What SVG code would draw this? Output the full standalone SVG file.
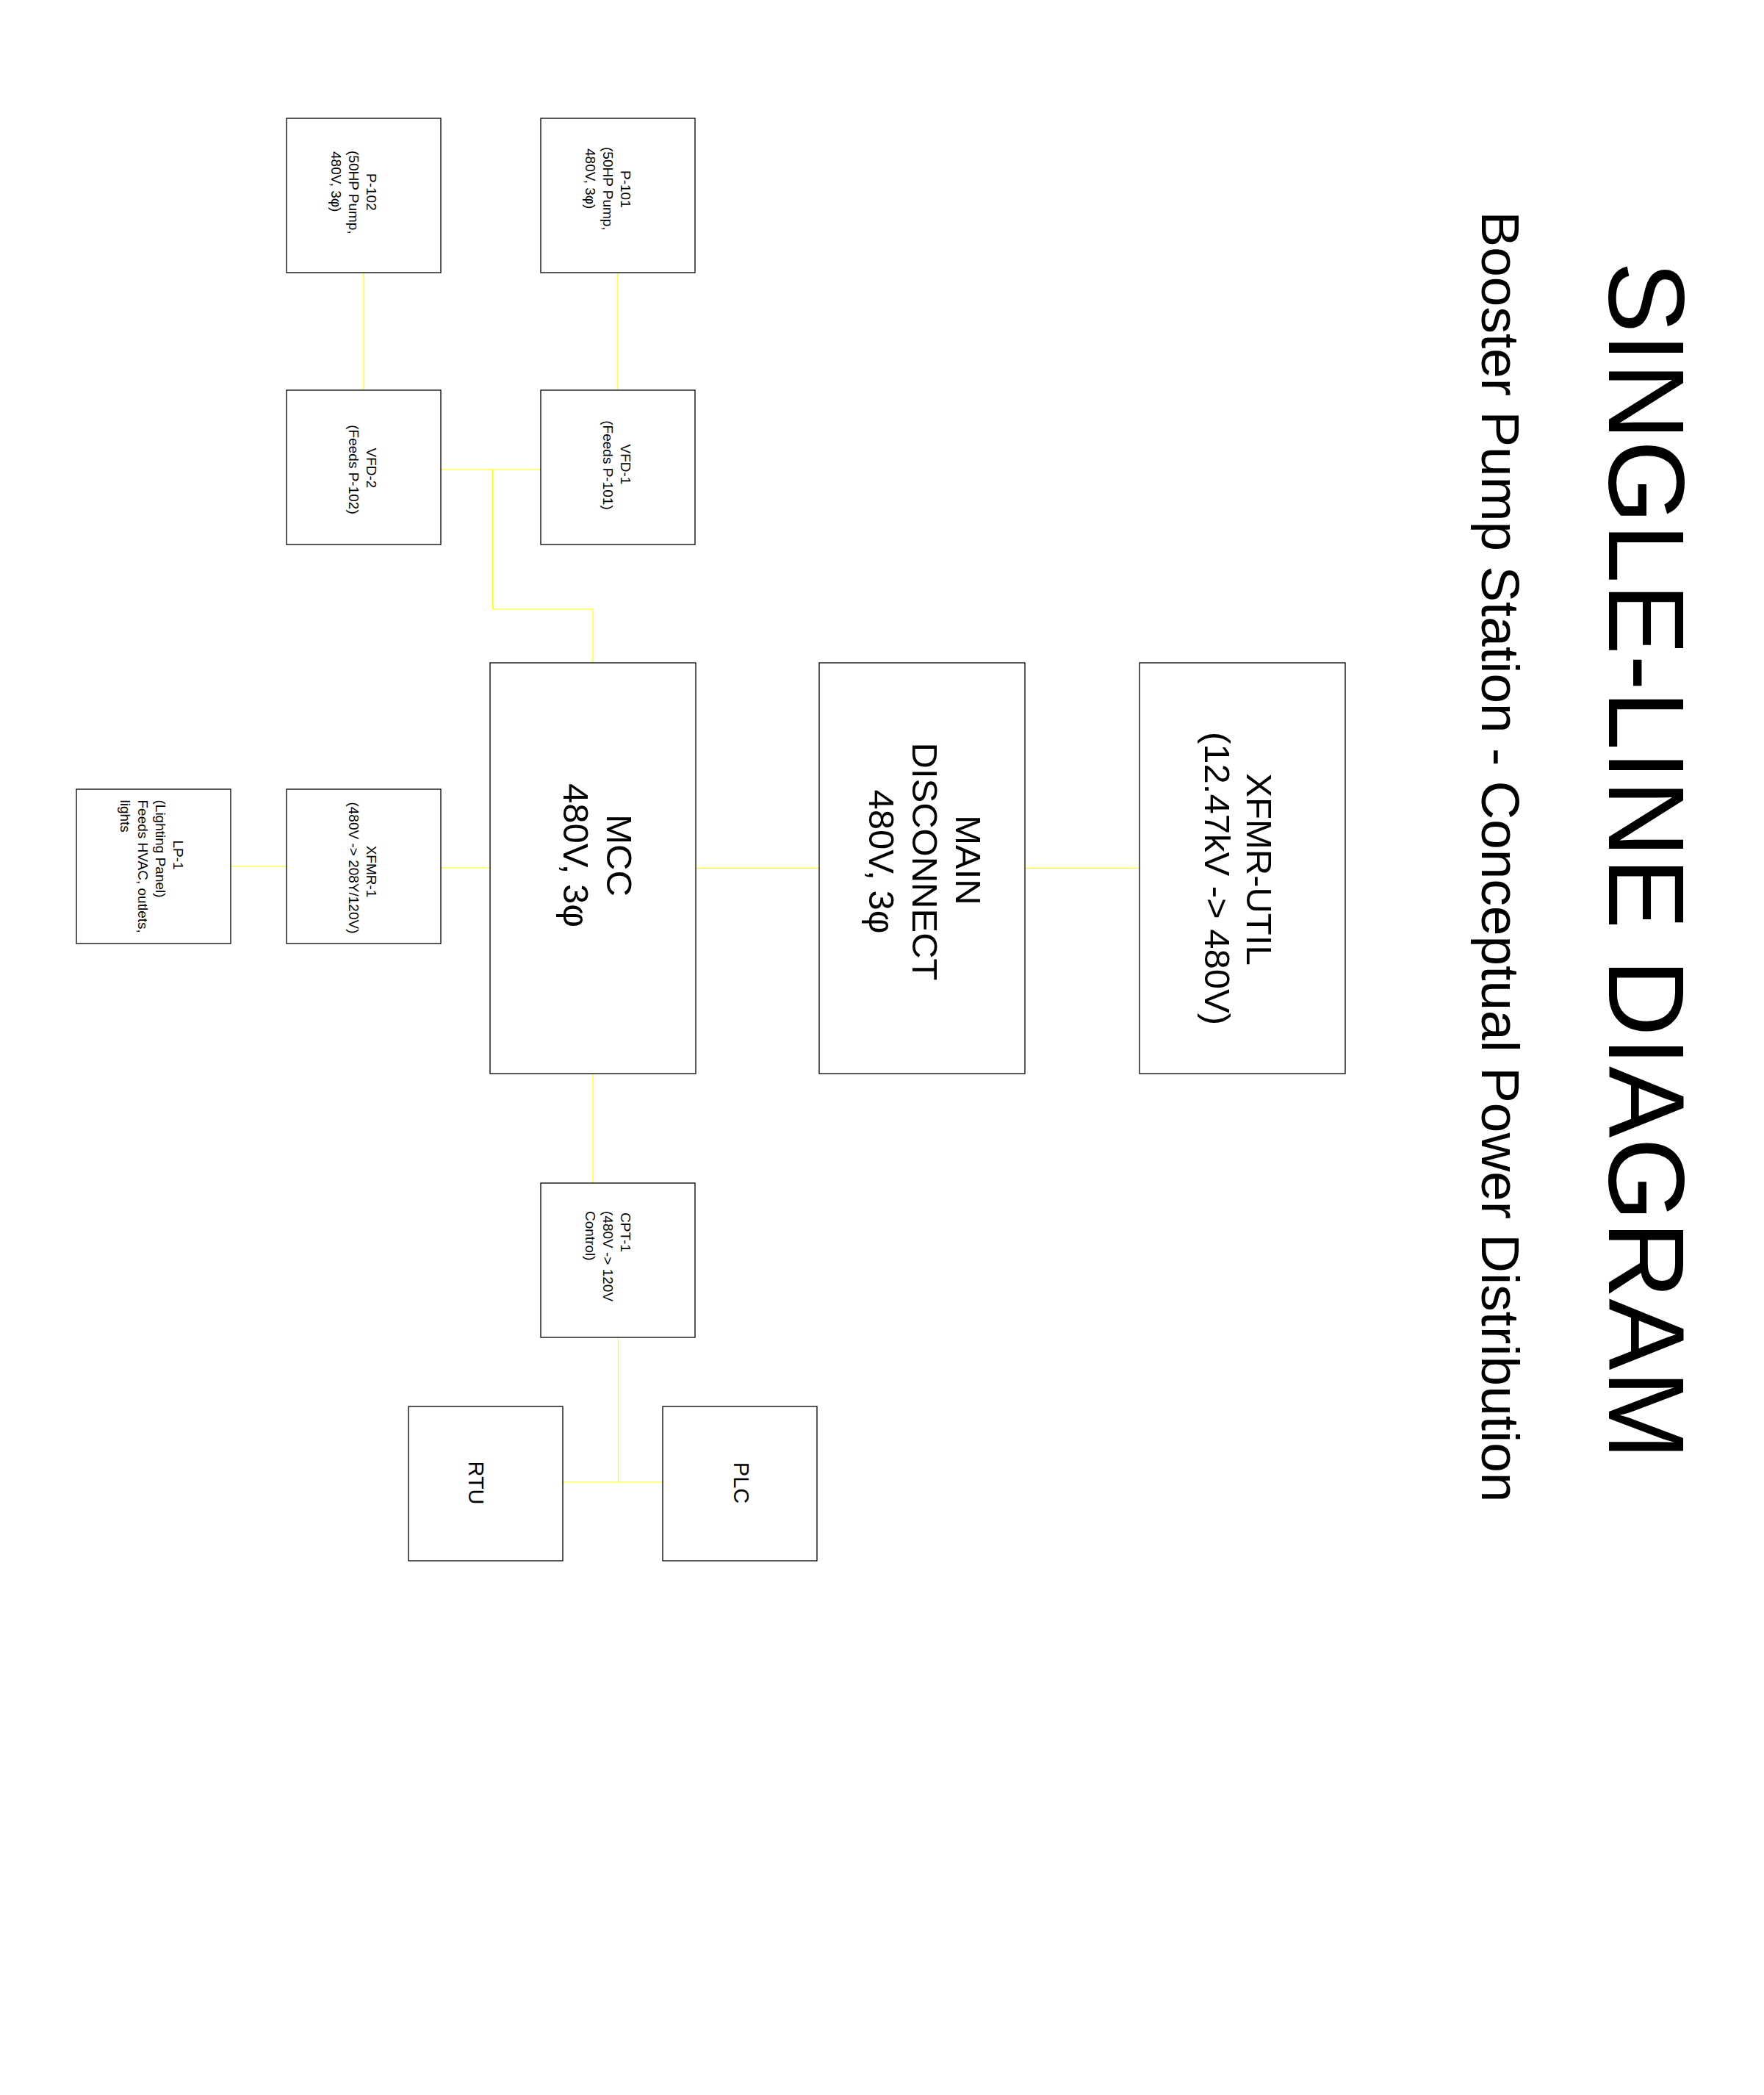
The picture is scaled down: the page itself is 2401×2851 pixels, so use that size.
<svg xmlns="http://www.w3.org/2000/svg" width="2401" height="2851" viewBox="0 0 2401 2851">
<style>
.box{fill:#fff;stroke:#000;stroke-width:1.3}
.w{stroke:#ffff00;stroke-width:1.2;fill:none}
text{font-family:"Liberation Sans",Arial,Helvetica,sans-serif;fill:#000}
.s{font-size:19px}
.m{font-size:29px}
.l{font-size:49px;text-anchor:middle}
.c{text-anchor:middle}
</style>
<rect x="0" y="0" width="2401" height="2851" fill="#fff"/>
<g id="connectors">
<line class="w" x1="495" y1="371" x2="495" y2="531"/>
<line class="w" x1="841" y1="371" x2="841" y2="531"/>
<line class="w" x1="600" y1="639" x2="736" y2="639"/>
<polyline class="w" points="670.5,639 670.5,829 807,829 807,902"/>
<line class="w" x1="947" y1="1181.5" x2="1115" y2="1181.5"/>
<line class="w" x1="1395" y1="1181.5" x2="1551" y2="1181.5"/>
<line class="w" x1="600" y1="1181" x2="667" y2="1181"/>
<line class="w" x1="314" y1="1179" x2="390" y2="1179"/>
<line class="w" x1="807" y1="1461" x2="807" y2="1610"/>
<line class="w" x1="841.5" y1="1820" x2="841.5" y2="2017"/>
<line class="w" x1="765" y1="2017" x2="902" y2="2017"/>
</g>
<g id="title">
<text transform="translate(2190,1171) rotate(90)" class="c" font-size="146">SINGLE-LINE DIAGRAM</text>
<text transform="translate(2017,1166) rotate(90)" class="c" font-size="73">Booster Pump Station - Conceptual Power Distribution</text>
</g>
<g id="P-102">
<rect class="box" x="390" y="161" width="210" height="210"/>
<text class="s" transform="translate(499,0) rotate(90)"><tspan x="236" y="0">P-102</tspan><tspan x="205" y="24">(50HP Pump,</tspan><tspan x="206" y="48">480V, 3φ)</tspan></text>
</g>
<g id="P-101">
<rect class="box" x="736" y="161" width="210" height="210"/>
<text class="s" transform="translate(845,0) rotate(90)"><tspan x="232" y="0">P-101</tspan><tspan x="200" y="24">(50HP Pump,</tspan><tspan x="202" y="48">480V, 3φ)</tspan></text>
</g>
<g id="VFD-2">
<rect class="box" x="390" y="531" width="210" height="210"/>
<text class="s c" transform="translate(499,0) rotate(90)"><tspan x="637" y="0">VFD-2</tspan><tspan x="639" y="24">(Feeds P-102)</tspan></text>
</g>
<g id="VFD-1">
<rect class="box" x="736" y="531" width="210" height="210"/>
<text class="s c" transform="translate(845,0) rotate(90)"><tspan x="632" y="0">VFD-1</tspan><tspan x="633" y="24">(Feeds P-101)</tspan></text>
</g>
<g id="MCC">
<rect class="box" x="667" y="902" width="280" height="559"/>
<text class="l" transform="translate(825.7,1164) rotate(90)"><tspan x="0" y="0">MCC</tspan><tspan x="0" y="59">480V, 3φ</tspan></text>
</g>
<g id="MAIN-DISCONNECT">
<rect class="box" x="1115" y="902" width="280" height="559"/>
<text class="l" transform="translate(1300.7,1170.5) rotate(90)"><tspan x="0" y="0">MAIN</tspan><tspan x="2" y="59">DISCONNECT</tspan><tspan x="2" y="118">480V, 3φ</tspan></text>
</g>
<g id="XFMR-UTIL">
<rect class="box" x="1551" y="902" width="280" height="559"/>
<text class="l" transform="translate(1697.3,1183) rotate(90)"><tspan x="0" y="0">XFMR-UTIL</tspan><tspan x="12.5" y="57.3">(12.47kV -&gt; 480V)</tspan></text>
</g>
<g id="XFMR-1">
<rect class="box" x="390" y="1074" width="210" height="210"/>
<text class="s c" transform="translate(499,0) rotate(90)"><tspan x="1186" y="0">XFMR-1</tspan><tspan x="1181" y="24">(480V -&gt; 208Y/120V)</tspan></text>
</g>
<g id="LP-1">
<rect class="box" x="104" y="1074" width="210" height="210"/>
<text class="s" transform="translate(236,0) rotate(90)"><tspan x="1163.5" y="0" text-anchor="middle">LP-1</tspan><tspan x="1088.5" y="24">(Lighting Panel)</tspan><tspan x="1088.5" y="48">Feeds HVAC, outlets,</tspan><tspan x="1088.5" y="72">lights</tspan></text>
</g>
<g id="CPT-1">
<rect class="box" x="736" y="1610" width="210" height="210"/>
<text class="s" transform="translate(845,0) rotate(90)"><tspan x="1650" y="0">CPT-1</tspan><tspan x="1648" y="24">(480V -&gt; 120V</tspan><tspan x="1648" y="48">Control)</tspan></text>
</g>
<g id="RTU">
<rect class="box" x="556" y="1914" width="210" height="210"/>
<text class="m c" transform="translate(637.6,2018) rotate(90)">RTU</text>
</g>
<g id="PLC">
<rect class="box" x="902" y="1914" width="210" height="210"/>
<text class="m c" transform="translate(999,2018) rotate(90)">PLC</text>
</g>
</svg>
